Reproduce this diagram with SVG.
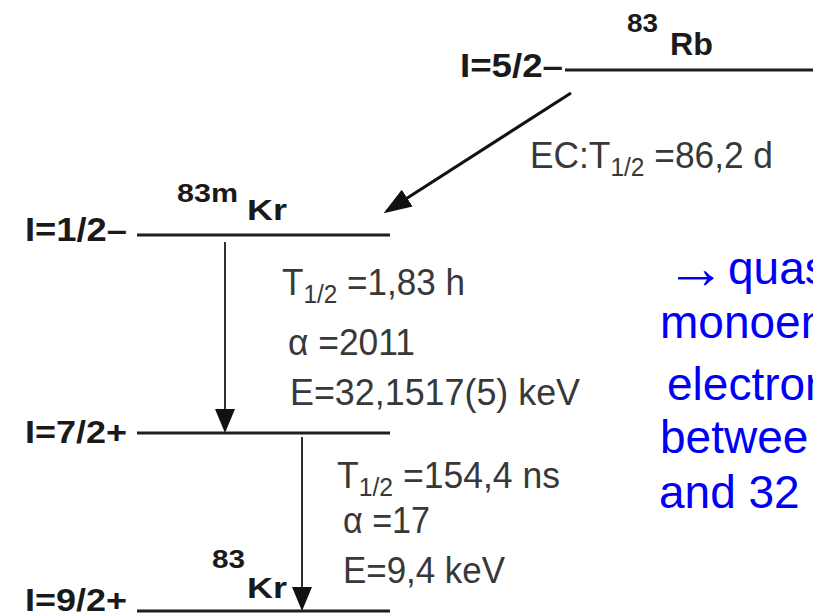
<svg xmlns="http://www.w3.org/2000/svg" width="813" height="613" viewBox="0 0 813 613">
<defs>
<style>
.lbl{font-family:"Liberation Sans",Arial,sans-serif;font-weight:bold;fill:#1a1a1a;}
.info{font-family:"Liberation Sans",Arial,sans-serif;font-size:36px;fill:#383838;}
.blue{font-family:"Liberation Sans",Arial,sans-serif;font-size:46px;fill:#0000f5;}
.lvl{stroke:#1e1e1e;stroke-width:3;fill:none;}
.tr{stroke:#303030;stroke-width:2;fill:none;}
</style>
<marker id="headBig" markerUnits="userSpaceOnUse" markerWidth="28" markerHeight="20" refX="24" refY="10" orient="auto">
<path d="M0,0 L28,10 L0,20 z" fill="#111"/>
</marker>
<marker id="headSmall" markerUnits="userSpaceOnUse" markerWidth="24" markerHeight="20" refX="22" refY="10" orient="auto">
<path d="M0,0 L24,10 L0,20 z" fill="#111"/>
</marker>
</defs>
<rect width="813" height="613" fill="#fff"/>

<g id="rb83">
<line class="lvl" x1="565" y1="70" x2="813" y2="70"/>
<text class="lbl" x="460" y="77" font-size="34" textLength="103" lengthAdjust="spacingAndGlyphs">I=5/2–</text>
<text class="lbl" x="627" y="32" font-size="25" textLength="31" lengthAdjust="spacingAndGlyphs">83</text>
<text class="lbl" x="670" y="55" font-size="31" textLength="43" lengthAdjust="spacingAndGlyphs">Rb</text>
</g>

<g id="kr83m">
<line class="lvl" x1="137" y1="235" x2="390" y2="235"/>
<text class="lbl" x="25" y="241" font-size="34" textLength="102" lengthAdjust="spacingAndGlyphs">I=1/2–</text>
<text class="lbl" x="177" y="202" font-size="26" textLength="61" lengthAdjust="spacingAndGlyphs">83m</text>
<text class="lbl" x="247" y="220" font-size="30" textLength="40" lengthAdjust="spacingAndGlyphs">Kr</text>
</g>

<g id="kr83-7_2">
<line class="lvl" x1="137" y1="433" x2="390" y2="433"/>
<text class="lbl" x="25" y="443" font-size="32" textLength="102" lengthAdjust="spacingAndGlyphs">I=7/2+</text>
</g>

<g id="kr83">
<line class="lvl" x1="137" y1="611" x2="390" y2="611"/>
<text class="lbl" x="25" y="611" font-size="32" textLength="102" lengthAdjust="spacingAndGlyphs">I=9/2+</text>
<text class="lbl" x="212" y="568" font-size="25" textLength="33" lengthAdjust="spacingAndGlyphs">83</text>
<text class="lbl" x="247" y="598" font-size="30" textLength="40" lengthAdjust="spacingAndGlyphs">Kr</text>
</g>

<g id="connectors">
<line x1="571" y1="93" x2="387" y2="211" stroke="#111" stroke-width="3" marker-end="url(#headBig)"/>
<line class="tr" x1="225" y1="242" x2="225" y2="431" marker-end="url(#headSmall)"/>
<line class="tr" x1="302" y1="437" x2="302" y2="609" marker-end="url(#headSmall)"/>
</g>

<g id="labels">
<text class="info" x="530" y="168" textLength="243" lengthAdjust="spacingAndGlyphs">EC:T<tspan font-size="25" dy="8">1/2</tspan><tspan dy="-8"> =86,2 d</tspan></text>
<text class="info" x="282" y="295" textLength="183" lengthAdjust="spacingAndGlyphs">T<tspan font-size="25" dy="8">1/2</tspan><tspan dy="-8"> =1,83 h</tspan></text>
<text class="info" x="288" y="355" textLength="127" lengthAdjust="spacingAndGlyphs">α =2011</text>
<text class="info" x="290" y="405" textLength="290" lengthAdjust="spacingAndGlyphs">E=32,1517(5) keV</text>
<text class="info" x="337" y="488" textLength="223" lengthAdjust="spacingAndGlyphs">T<tspan font-size="25" dy="8">1/2</tspan><tspan dy="-8"> =154,4 ns</tspan></text>
<text class="info" x="343" y="533" textLength="87" lengthAdjust="spacingAndGlyphs">α =17</text>
<text class="info" x="343" y="583" textLength="162" lengthAdjust="spacingAndGlyphs">E=9,4 keV</text>
</g>

<g id="note">
<text class="blue" x="666" y="288"><tspan font-size="60">→</tspan><tspan x="728" y="284">quas</tspan></text>
<text class="blue" x="660" y="338">monoen</text>
<text class="blue" x="667" y="400">electron</text>
<text class="blue" x="660" y="453">betwee</text>
<text class="blue" x="659" y="508">and 32</text>
</g>
</svg>
